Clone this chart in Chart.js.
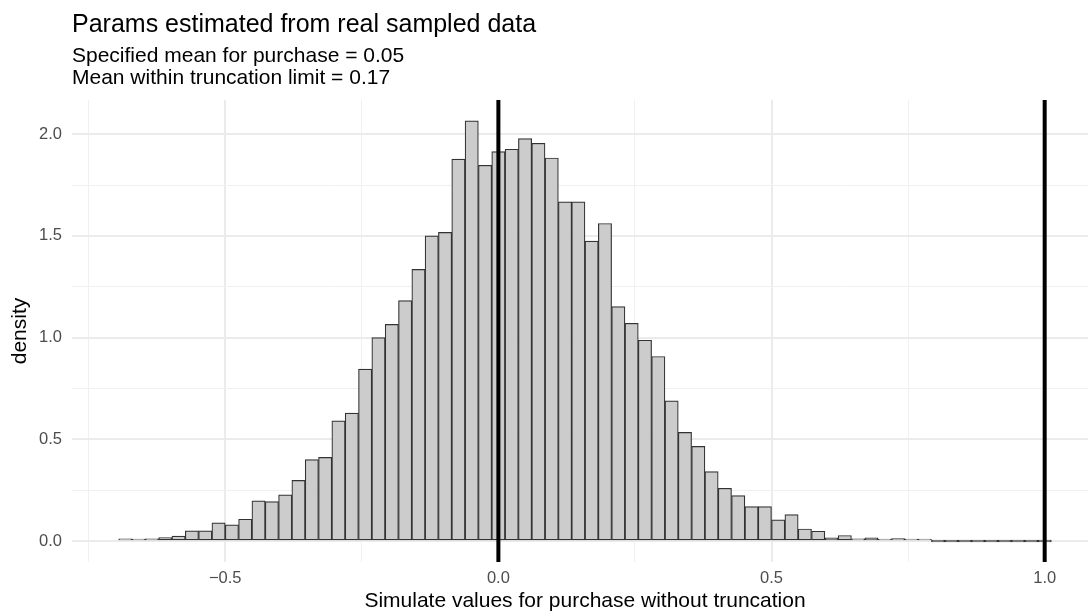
<!DOCTYPE html>
<html>
<head>
<meta charset="utf-8">
<title>Params estimated from real sampled data</title>
<script src="https://cdn.jsdelivr.net/npm/chart.js@4/dist/chart.umd.min.js"></script>
<style>
  html, body { margin: 0; padding: 0; background: #fff; overflow: hidden; }
  #wrap { position: relative; width: 1098px; height: 613px; }
</style>
</head>
<body>
<div id="wrap"><canvas id="histChart"></canvas></div>
<script>
// Textos do gráfico
const chartTitle = 'Params estimated from real sampled data';
const chartSubtitle = ['Specified mean for purchase = 0.05', 'Mean within truncation limit = 0.17'];
const xTitle = 'Simulate values for purchase without truncation';
const yTitle = 'density';

// Centros dos bins (largura ~0.0244)
const binCenters = [
  -0.6829, -0.6585, -0.6341, -0.6098, -0.5854, -0.5610, -0.5366, -0.5122, -0.4878, -0.4634,
  -0.4390, -0.4146, -0.3902, -0.3659, -0.3415, -0.3171, -0.2927, -0.2683, -0.2439, -0.2195,
  -0.1951, -0.1707, -0.1463, -0.1220, -0.0976, -0.0732, -0.0488, -0.0244, 0.0000, 0.0244,
  0.0488, 0.0732, 0.0976, 0.1220, 0.1463, 0.1707, 0.1951, 0.2195, 0.2439, 0.2683,
  0.2927, 0.3171, 0.3415, 0.3659, 0.3902, 0.4146, 0.4390, 0.4634, 0.4878, 0.5122,
  0.5366, 0.5610, 0.5854, 0.6098, 0.6341, 0.6585, 0.6829, 0.7073, 0.7317, 0.7561,
  0.7805, 0.8049, 0.8293, 0.8537, 0.8780, 0.9024, 0.9268, 0.9512, 0.9756, 1.0000
];

// Densidade de cada bin
const densities = [
  0.010, 0.004, 0.010, 0.017, 0.024, 0.050, 0.050, 0.089, 0.079, 0.107,
  0.197, 0.194, 0.227, 0.298, 0.400, 0.411, 0.591, 0.629, 0.845, 1.000,
  1.065, 1.182, 1.335, 1.500, 1.517, 1.877, 2.065, 1.847, 1.914, 1.926,
  1.978, 1.955, 1.883, 1.667, 1.667, 1.474, 1.561, 1.152, 1.070, 0.987,
  0.907, 0.689, 0.534, 0.465, 0.341, 0.259, 0.223, 0.169, 0.169, 0.104,
  0.130, 0.059, 0.048, 0.015, 0.027, 0.010, 0.015, 0.007, 0.012, 0.002,
  0.006, 0, 0, 0, 0, 0, 0, 0, 0, 0
];

// Linhas verticais (zero e limite de truncagem)
const vlineValues = [0, 1.0];

// Ticks e grades
const xGrid = [-0.75, -0.5, -0.25, 0, 0.25, 0.5, 0.75, 1.0];
const xTicks = [-0.5, 0, 0.5, 1.0];
const yGrid = [0, 0.25, 0.5, 0.75, 1.0, 1.25, 1.5, 1.75, 2.0];
const yTicks = [0, 0.5, 1.0, 1.5, 2.0];

const FONT = "'Liberation Sans', Arial, Helvetica, sans-serif";

function fmt(v) {
    const s = Math.abs(v).toFixed(1);
    return v < 0 ? '\u2212' + s : s;
}
function isLabelled(list, v) {
    return list.some(t => Math.abs(t - v) < 1e-9);
}
function gridColor(list) {
    return (c) => (c.tick && isLabelled(list, c.tick.value)) ? '#EBEBEB' : '#F0F0F0';
}
function gridWidth(list) {
    return (c) => (c.tick && isLabelled(list, c.tick.value)) ? 2 : 1;
}

// Plugin para título, subtítulo e linhas verticais
const extras = {
    id: 'extras',
    afterDatasetsDraw(chart) {
        const {ctx, chartArea, scales} = chart;
        ctx.save();
        ctx.strokeStyle = '#000000';
        ctx.lineWidth = 4;
        vlineValues.forEach(v => {
            const px = scales.x.getPixelForValue(v);
            ctx.beginPath();
            ctx.moveTo(px, chartArea.top);
            ctx.lineTo(px, chartArea.bottom);
            ctx.stroke();
        });
        ctx.restore();
    },
    afterDraw(chart) {
        const {ctx, chartArea} = chart;
        ctx.save();
        ctx.fillStyle = '#000000';
        ctx.textAlign = 'left';
        ctx.textBaseline = 'alphabetic';
        ctx.font = '25px ' + FONT;
        ctx.fillText(chartTitle, chartArea.left, 32);
        ctx.font = '21px ' + FONT;
        chartSubtitle.forEach((line, i) => {
            ctx.fillText(line, chartArea.left, 62 + i * 22);
        });
        ctx.restore();
    }
};

const ctx = document.getElementById('histChart').getContext('2d');
const histChart = new Chart(ctx, {
    type: 'bar',
    data: {
        datasets: [{
            label: yTitle,
            data: binCenters.map((x, i) => ({x: x, y: densities[i]})),
            backgroundColor: '#CCCCCC',
            borderColor: '#333333',
            borderWidth: 1.2,
            borderSkipped: false,
            minBarLength: 2,
            barPercentage: 1,
            categoryPercentage: 1
        }]
    },
    options: {
        responsive: true,
        maintainAspectRatio: false,
        animation: false,
        layout: { padding: { top: 100, left: 0, right: 0, bottom: 0 } },
        plugins: {
            legend: { display: false },
            tooltip: { enabled: false }
        },
        scales: {
            x: {
                type: 'linear',
                min: -0.7805,
                max: 1.0976,
                offset: false,
                afterFit: (scale) => { scale.height = 51; },
                afterBuildTicks: (scale) => { scale.ticks = xGrid.map(v => ({value: v})); },
                grid: {
                    offset: false,
                    drawTicks: false,
                    color: gridColor(xTicks),
                    lineWidth: gridWidth(xTicks)
                },
                border: { display: false },
                ticks: {
                    autoSkip: false,
                    maxRotation: 0,
                    padding: 7,
                    color: '#4D4D4D',
                    font: { family: FONT, size: 16.5 },
                    callback: (v) => isLabelled(xTicks, v) ? fmt(v) : ''
                },
                title: {
                    display: true,
                    text: xTitle,
                    color: '#000000',
                    font: { family: FONT, size: 21, lineHeight: 1.1 },
                    padding: { top: 0, bottom: 0 }
                }
            },
            y: {
                type: 'linear',
                min: -0.1033,
                max: 2.168,
                afterFit: (scale) => { scale.width = 72; },
                afterBuildTicks: (scale) => { scale.ticks = yGrid.map(v => ({value: v})); },
                grid: {
                    offset: false,
                    drawTicks: false,
                    color: gridColor(yTicks),
                    lineWidth: gridWidth(yTicks)
                },
                border: { display: false },
                ticks: {
                    autoSkip: false,
                    padding: 10,
                    color: '#4D4D4D',
                    font: { family: FONT, size: 16.5 },
                    callback: (v) => isLabelled(yTicks, v) ? fmt(v) : ''
                },
                title: {
                    display: true,
                    text: yTitle,
                    color: '#000000',
                    font: { family: FONT, size: 21 },
                    padding: { top: 8, bottom: 0 }
                }
            }
        }
    },
    plugins: [extras]
});
</script>
</body>
</html>
